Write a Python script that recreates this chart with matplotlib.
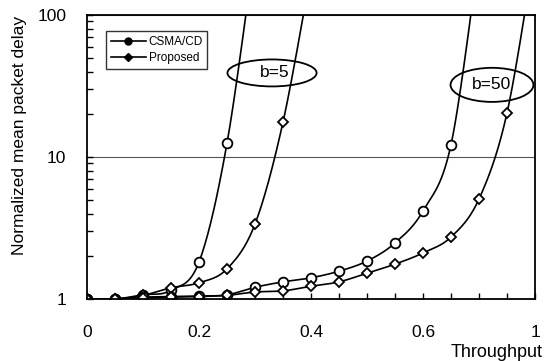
import numpy as np
import matplotlib.pyplot as plt
from matplotlib.patches import Ellipse
from matplotlib.lines import Line2D
from matplotlib.ticker import FixedLocator, MultipleLocator, LogLocator, NullFormatter

plt.rcParams['font.family'] = ['Liberation Sans', 'DejaVu Sans']

# Throughput points (0.05 steps) and delays
x_b5_csma = [0, 0.05, 0.1, 0.15, 0.2, 0.25, 0.3]
y_b5_csma = [1, 1, 1.07, 1.15, 1.82, 12.5, 300]

x_b5_prop = [0, 0.05, 0.1, 0.15, 0.2, 0.25, 0.3, 0.35, 0.4]
y_b5_prop = [1, 1, 1.06, 1.2, 1.30, 1.63, 3.37, 17.6, 200]

x_b50_csma = [0, 0.05, 0.1, 0.15, 0.2, 0.25, 0.3, 0.35, 0.4, 0.45, 0.5, 0.55, 0.6, 0.65, 0.7]
y_b50_csma = [1, 1, 1.03, 1.04, 1.05, 1.07, 1.21, 1.32, 1.41, 1.57, 1.85, 2.48, 4.17, 12.2, 270]

x_b50_prop = [0, 0.05, 0.1, 0.15, 0.2, 0.25, 0.3, 0.35, 0.4, 0.45, 0.5, 0.55, 0.6, 0.65, 0.7, 0.75, 0.8]
y_b50_prop = [1, 1, 1.02, 1.03, 1.04, 1.06, 1.12, 1.14, 1.23, 1.32, 1.52, 1.76, 2.11, 2.73, 5.06, 20.4, 290]

xtick_pos = [0, 0.2, 0.4, 0.6, 0.8]
xtick_labels = ['0', '0.2', '0.4', '0.6', '1']


def smooth(x, y, n=30):
    # catmull-rom in (x, log y), like the smoothed lines of the original
    px = np.asarray(x, float)
    py = np.log10(np.asarray(y, float))
    xs, ys = [], []
    for i in range(len(px) - 1):
        i0, i3 = max(i - 1, 0), min(i + 2, len(px) - 1)
        t = np.linspace(0, 1, n)
        for p, out in ((px, xs), (py, ys)):
            p0, p1, p2, p3 = p[i0], p[i], p[i + 1], p[i3]
            out.append(0.5 * (2 * p1 + (-p0 + p2) * t
                              + (2 * p0 - 5 * p1 + 4 * p2 - p3) * t ** 2
                              + (-p0 + 3 * p1 - 3 * p2 + p3) * t ** 3))
    return np.concatenate(xs), 10 ** np.concatenate(ys)


fig = plt.figure(figsize=(5.54, 3.61), dpi=100)
ax = fig.add_axes([87 / 554, 62 / 361, 448 / 554, 284 / 361])

for xx, yy, mk, ms in [(x_b5_csma, y_b5_csma, 'o', 7),
                       (x_b5_prop, y_b5_prop, 'D', 5),
                       (x_b50_csma, y_b50_csma, 'o', 7),
                       (x_b50_prop, y_b50_prop, 'D', 5)]:
    sx, sy = smooth(xx, yy)
    ax.plot(sx, sy, color='black', lw=1.2)
    ax.plot(xx, yy, linestyle='', marker=mk, ms=ms, mfc='white', mec='black', mew=1.3)

ax.set_yscale('log')
ax.set_xlim(0, 0.8)
ax.set_ylim(1, 100)
ax.yaxis.set_minor_locator(LogLocator(base=10, subs=np.arange(2, 10), numticks=10))
ax.yaxis.set_minor_formatter(NullFormatter())
ax.set_yticks([1, 10, 100])
ax.set_yticklabels(['1', '10', '100'])
ax.xaxis.set_major_locator(FixedLocator(xtick_pos))
ax.set_xticklabels(xtick_labels)
ax.xaxis.set_minor_locator(MultipleLocator(0.05))

ax.tick_params(which='both', direction='in', length=4, width=1, color='black')
ax.tick_params(axis='x', which='major', pad=19, labelsize=12.5)
ax.tick_params(axis='y', which='major', pad=15, labelsize=12.5)
ax.yaxis.grid(True, which='major', color='#555555', lw=0.8)

for s in ax.spines.values():
    s.set_linewidth(1.3)
    s.set_color('black')

ax.set_ylabel('Normalized mean packet delay', fontsize=12.5)
ax.yaxis.set_label_coords(-0.134, 0.575)
ax.set_xlabel('Throughput', fontsize=13, ha='right')
ax.xaxis.set_label_coords(1.018, -0.158)

# labels of the two curve groups
ax.add_patch(Ellipse((0.413, 0.796), 0.199, 0.095, transform=ax.transAxes,
                     fill=False, edgecolor='black', lw=1.3, zorder=5))
ax.text(0.42, 0.796, 'b=5', transform=ax.transAxes, ha='center', va='center', fontsize=12.5, zorder=6)
ax.add_patch(Ellipse((0.904, 0.754), 0.185, 0.12, transform=ax.transAxes,
                     fill=False, edgecolor='black', lw=1.3, zorder=5))
ax.text(0.904, 0.754, 'b=50', transform=ax.transAxes, ha='center', va='center', fontsize=12.5, zorder=6)

handles = [Line2D([], [], color='black', lw=1.2, marker='o', ms=5, mfc='black'),
           Line2D([], [], color='black', lw=1.2, marker='D', ms=4, mfc='black')]
leg = ax.legend(handles, ['CSMA/CD', 'Proposed'], loc='upper left',
                bbox_to_anchor=((106 - 87) / 448, (299 - 31) / 284),
                fontsize=8.5, frameon=True, fancybox=False, edgecolor='black',
                borderpad=0.4, handlelength=3.0, handletextpad=0.2, labelspacing=0.4,
                borderaxespad=0)
leg.get_frame().set_linewidth(1.0)

fig.savefig('out.png', dpi=100)
